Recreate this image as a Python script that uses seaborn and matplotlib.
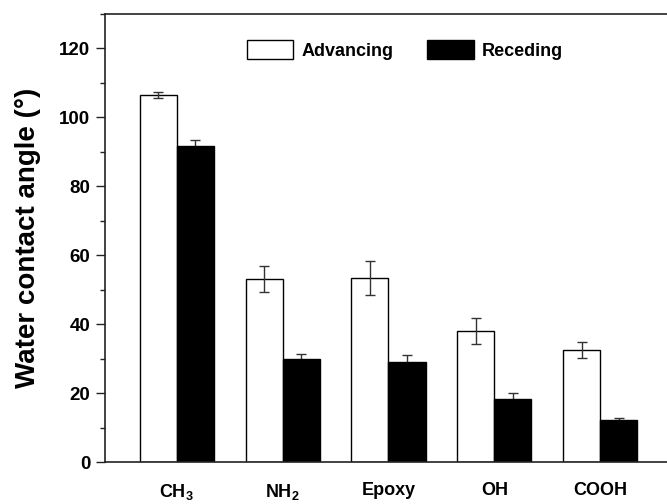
import matplotlib
matplotlib.use("Agg")
import matplotlib.pyplot as plt
from matplotlib.ticker import MultipleLocator
import seaborn as sns
import pandas as pd

# Surface terminations and measured water contact angles (degrees)
groups = ["CH$_3$", "NH$_2$", "Epoxy", "OH", "COOH"]
advancing = [106.6, 53.2, 53.5, 38.1, 32.6]
advancing_err = [0.9, 3.8, 4.9, 3.8, 2.3]
receding = [91.8, 29.9, 29.1, 18.3, 12.3]
receding_err = [1.8, 1.6, 1.9, 1.7, 0.6]
kinds = ["Advancing", "Receding"]

sns.set_theme(style="ticks")
plt.rcParams["font.family"] = ["Liberation Sans", "DejaVu Sans"]
plt.rcParams["font.weight"] = "bold"
plt.rcParams["text.color"] = "black"
plt.rcParams["axes.labelcolor"] = "black"
plt.rcParams["xtick.color"] = "black"
plt.rcParams["ytick.color"] = "black"
plt.rcParams["mathtext.fontset"] = "custom"
plt.rcParams["mathtext.rm"] = "Liberation Sans:bold"
plt.rcParams["mathtext.it"] = "Liberation Sans:bold"
plt.rcParams["mathtext.bf"] = "Liberation Sans:bold"

df = pd.DataFrame({
    "group": groups * 2,
    "kind": [kinds[0]] * len(groups) + [kinds[1]] * len(groups),
    "angle": advancing + receding,
})
errs = {kinds[0]: advancing_err, kinds[1]: receding_err}

fig = plt.figure(figsize=(6.67, 5.04), dpi=100)
ax = fig.add_axes([0.1574, 0.0827, 0.850, 0.8895])

sns.barplot(data=df, x="group", y="angle", hue="kind", order=groups,
            hue_order=kinds, palette={kinds[0]: "white", kinds[1]: "black"},
            edgecolor="black", linewidth=1.0, width=0.7, errorbar=None,
            legend=False, ax=ax)

# Error bars: drawn over the open bars, tucked behind the filled ones
for container, kind in zip(ax.containers, kinds):
    xs = [b.get_x() + b.get_width() / 2 for b in container]
    ys = [b.get_height() for b in container]
    z = 3 if kind == kinds[0] else 0.5
    ax.errorbar(xs, ys, yerr=errs[kind], fmt="none", ecolor="#333333",
                elinewidth=1.0, capsize=3.3, capthick=1.0, zorder=z)

ax.set_xlim(-0.678, 4.678)
ax.set_ylim(0, 130)
ax.yaxis.set_major_locator(MultipleLocator(20))
ax.yaxis.set_minor_locator(MultipleLocator(10))
ax.tick_params(axis="y", which="major", length=6.5, width=1.0, pad=4,
               labelsize=13.5, color="#222222", labelcolor="black")
ax.tick_params(axis="y", which="minor", length=3.6, width=1.0, color="#222222")
ax.tick_params(axis="x", which="both", length=0, pad=14, labelsize=13,
               labelcolor="black")
for lab in ax.get_xticklabels() + ax.get_yticklabels():
    lab.set_fontweight("bold")

ax.set_xlabel("")
ax.set_ylabel("Water contact angle (°)", fontsize=20, fontweight="bold",
              labelpad=13, color="black")

for side in ["left", "bottom", "top"]:
    ax.spines[side].set_visible(True)
    ax.spines[side].set_linewidth(1.2)
    ax.spines[side].set_color("#222222")
ax.spines["right"].set_visible(False)

ax.legend(ax.containers, kinds, loc="center", bbox_to_anchor=(0.529, 0.92),
          bbox_transform=ax.transAxes, ncol=2, frameon=False,
          prop={"weight": "bold", "size": 13}, handlelength=2.55,
          handleheight=1.2, handletextpad=0.45, columnspacing=1.9)

fig.savefig("out.png", dpi=100)
